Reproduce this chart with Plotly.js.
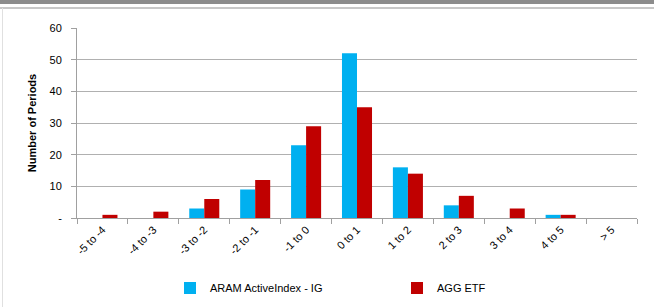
<!DOCTYPE html>
<html>
<head>
<meta charset="utf-8">
<script src="https://cdn.plot.ly/plotly-3.0.1.min.js"></script>
<style>
html,body{margin:0;padding:0;background:#fff;}
#chart{width:654px;height:307px;}
</style>
</head>
<body>
<div id="chart"></div>
<script>
const categories = ["-5 to -4","-4 to -3","-3 to -2","-2 to -1","-1 to 0","0 to 1","1 to 2","2 to 3","3 to 4","4 to 5","> 5"];
const aramValues = [0,0,3,9,23,52,16,4,0,1,0];
const aggValues  = [1,2,6,12,29,35,14,7,3,1,0];
const yTickVals  = [0,10,20,30,40,50,60];
const yTickText  = ["-","10","20","30","40","50","60"];

const font = "Liberation Sans, Arial, sans-serif";

const traces = [
  {type:"bar", name:"ARAM ActiveIndex - IG", x:categories, y:aramValues, marker:{color:"#00b0f0"}, hoverinfo:"x+y", legend:"legend"},
  {type:"bar", name:"AGG ETF", x:categories, y:aggValues, marker:{color:"#c00000"}, hoverinfo:"x+y", legend:"legend2"}
];

const T = 28, B = 89, L = 77, R = 17;
const PH = 307 - T - B, PW = 654 - L - R;
const px = v => (v - L) / PW;
const py = v => (307 - B - v) / PH;

const legendBase = {
  orientation:"h", xanchor:"left", yanchor:"middle",
  font:{family:font, size:11, color:"#000"},
  bgcolor:"rgba(0,0,0,0)"
};

const layout = {
  width:654, height:307,
  margin:{l:L, r:R, t:T, b:B, pad:0, autoexpand:false},
  paper_bgcolor:"#ffffff", plot_bgcolor:"#ffffff",
  barmode:"group", bargap:0.41, bargroupgap:0,
  font:{family:font, size:11, color:"#000"},
  xaxis:{
    type:"category",
    tickangle:-45,
    tickfont:{family:font, size:11, color:"#000"},
    ticks:"outside", ticklen:5, tickcolor:"#a0a0a0", tickson:"boundaries",
    showline:true, linecolor:"#a0a0a0", linewidth:1,
    showgrid:false, zeroline:false, fixedrange:true
  },
  yaxis:{
    range:[0,60],
    tickvals:yTickVals, ticktext:yTickText,
    tickfont:{family:font, size:11, color:"#000"},
    ticks:"outside", ticklen:5, tickcolor:"#a0a0a0",
    ticklabelstandoff:7,
    showline:true, linecolor:"#a0a0a0", linewidth:1,
    showgrid:true, gridcolor:"#b0b0b0", gridwidth:1,
    zeroline:false,
    title:{text:"Number of Periods", font:{family:font, size:11, color:"#000", weight:"bold"}, standoff:10},
    fixedrange:true
  },
  showlegend:true,
  legend:Object.assign({}, legendBase, {x:px(170), y:py(288)}),
  legend2:Object.assign({}, legendBase, {x:px(397), y:py(288)}),
  shapes:[
    {type:"rect", xref:"paper", yref:"paper", x0:px(0), x1:px(654), y0:py(4), y1:py(0), fillcolor:"#8c8c8c", line:{width:0}, layer:"above"},
    {type:"line", xref:"paper", yref:"paper", x0:px(0), x1:px(654), y0:py(8), y1:py(8), line:{color:"#c8c8c8", width:2}},
    {type:"line", xref:"paper", yref:"paper", x0:px(2.5), x1:px(2.5), y0:py(8), y1:py(307), line:{color:"#e0e0e0", width:1}}
  ]
};

Plotly.newPlot("chart", traces, layout, {displayModeBar:false, staticPlot:true});
</script>
</body>
</html>
